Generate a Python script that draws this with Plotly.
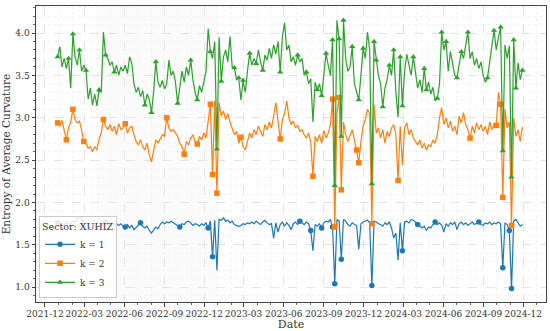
import pandas as pd
import plotly.graph_objects as go

# ---- data (~5-day sampling) ----
start_date = "2021-12-30"
series_names = ["k = 1", "k = 2", "k = 3"]
legend_title = "Sector: XUHIZ"

k1 = [1.76,1.72,1.75,1.73,1.77,1.74,1.76,1.78,1.77,1.80,
      1.83,1.82,1.74,1.70,1.66,1.72,1.70,1.73,1.69,1.72,
      1.74,1.73,1.77,1.75,1.74,1.76,1.74,1.75,1.73,1.75,
      1.72,1.71,1.74,1.70,1.73,1.68,1.71,1.74,1.76,1.72,
      1.70,1.72,1.67,1.64,1.68,1.71,1.69,1.74,1.77,1.75,
      1.77,1.76,1.78,1.76,1.75,1.73,1.71,1.75,1.74,1.77,
      1.78,1.76,1.73,1.75,1.74,1.72,1.75,1.73,1.76,1.70,
      1.78,1.36,1.79,1.20,1.80,1.79,1.82,1.78,1.79,1.76,
      1.78,1.74,1.73,1.72,1.73,1.75,1.74,1.76,1.75,1.77,
      1.75,1.78,1.76,1.74,1.77,1.79,1.76,1.74,1.75,1.58,
      1.76,1.65,1.74,1.77,1.72,1.76,1.73,1.68,1.75,1.77,
      1.74,1.78,1.76,1.74,1.77,1.75,1.67,1.43,1.74,1.72,
      1.75,1.70,1.76,1.78,1.77,1.80,1.71,1.04,1.80,1.78,
      1.33,1.80,1.78,1.74,1.72,1.76,1.74,1.73,1.45,1.75,
      1.77,1.78,1.79,1.76,1.02,1.78,1.77,1.75,1.74,1.72,
      1.76,1.74,1.77,1.70,1.58,1.64,1.32,1.76,1.43,1.77,
      1.78,1.76,1.80,1.79,1.77,1.74,1.72,1.70,1.72,1.67,
      1.71,1.70,1.74,1.77,1.74,1.76,1.73,1.65,1.75,1.72,
      1.76,1.74,1.77,1.68,1.75,1.77,1.74,1.76,1.73,1.75,
      1.77,1.74,1.76,1.77,1.74,1.73,1.76,1.75,1.77,1.74,
      1.76,1.75,1.77,1.75,1.23,1.76,1.74,1.67,0.985,1.78,
      1.80,1.76,1.72,1.74]

k2 = [2.94,2.90,2.97,2.86,2.74,2.88,2.95,3.10,2.98,2.94,
      2.96,2.85,2.72,2.70,2.64,2.66,2.60,2.66,2.62,2.75,
      2.82,2.98,2.90,2.86,2.92,2.84,2.90,2.80,2.93,2.86,
      2.88,2.93,2.82,2.88,2.90,2.80,2.72,2.68,2.74,2.66,
      2.62,2.70,2.56,2.48,2.62,2.74,2.70,2.76,2.80,2.78,
      3.00,2.88,2.84,2.86,2.82,2.78,2.70,2.66,2.57,2.72,
      2.68,2.76,2.80,2.72,2.69,2.78,2.74,2.82,2.76,2.95,
      3.16,2.33,3.20,2.11,3.18,3.02,3.08,2.98,3.05,2.95,
      2.88,2.80,2.84,2.70,2.77,2.66,2.62,2.74,2.82,2.76,
      2.86,2.80,2.90,2.84,2.78,2.92,2.86,2.95,2.88,3.02,
      3.18,2.96,2.75,2.98,3.05,3.20,3.00,2.92,2.96,2.88,
      2.91,2.84,2.86,2.80,2.76,2.82,2.72,2.31,2.78,2.72,
      2.80,2.70,2.85,2.76,2.82,2.92,3.22,1.71,3.05,3.24,
      2.15,2.95,2.80,2.72,2.78,2.86,2.74,2.62,2.47,2.72,
      2.90,2.98,3.10,3.05,1.75,3.16,2.82,2.88,2.76,2.86,
      2.70,2.84,2.78,2.88,2.92,2.80,2.26,2.90,2.44,2.88,
      2.94,2.80,2.86,2.76,2.72,2.68,2.74,2.64,2.70,2.62,
      2.68,2.66,2.74,2.70,2.80,3.00,3.12,2.92,3.00,2.88,
      2.96,2.84,2.90,2.80,3.02,2.94,3.06,2.92,2.86,2.76,
      2.90,2.82,2.94,2.86,2.92,2.84,2.90,2.80,2.95,2.86,
      2.92,2.91,3.30,3.16,2.06,3.10,2.88,2.95,1.73,3.00,
      2.78,2.86,2.72,2.89]

k3 = [3.72,3.84,3.60,3.70,3.58,3.70,3.35,3.99,3.72,3.62,
      3.80,3.55,3.62,3.56,3.22,3.35,3.15,3.28,3.14,3.33,
      3.30,4.01,3.74,3.70,3.62,3.66,3.54,3.62,3.50,3.60,
      3.55,3.62,3.52,3.72,3.64,3.40,3.30,3.36,3.25,3.32,
      3.15,3.28,3.22,3.06,3.30,3.66,3.42,3.36,3.44,3.34,
      3.40,3.68,3.50,3.55,3.42,3.17,3.36,3.55,3.42,3.60,
      3.50,3.68,3.45,3.30,3.21,3.38,3.30,3.42,3.55,4.05,
      3.78,3.70,3.90,2.63,3.95,3.43,3.72,3.80,3.66,3.96,
      3.60,3.59,3.45,3.47,3.21,3.44,3.30,3.55,3.76,3.62,
      3.70,3.64,3.80,3.66,3.56,3.74,3.68,3.82,3.70,3.86,
      3.75,3.90,3.54,3.95,4.12,3.80,3.86,3.66,3.72,3.62,
      3.74,3.66,3.70,3.50,3.54,3.40,3.46,2.95,3.42,3.33,
      3.40,3.26,3.55,3.76,3.62,3.50,3.92,2.20,4.15,3.93,
      2.78,4.15,3.70,3.55,3.60,3.84,3.40,3.30,3.21,3.50,
      3.82,3.70,4.01,3.80,2.22,3.90,3.68,3.50,3.40,3.13,
      3.35,3.45,3.62,3.50,3.80,3.30,3.01,3.72,3.14,3.55,
      3.75,3.60,3.50,3.72,3.50,3.35,3.45,3.30,3.58,3.33,
      3.42,3.28,3.36,3.20,3.23,3.40,4.01,3.80,3.90,3.55,
      3.78,3.62,3.50,3.47,3.65,3.78,3.70,3.85,4.01,3.70,
      3.78,3.62,3.70,3.58,3.66,3.50,3.42,3.47,3.70,3.85,
      4.03,3.80,3.95,4.07,2.61,3.86,3.70,3.85,2.30,3.92,
      3.35,3.65,3.45,3.56]

# indices of points that carry a marker
k1_marks = [0,22,31,38,56,69,71,111,116,121,126,127,130,144,158,165,173,193,204,207,208]
k2_marks = [0,4,7,12,21,31,50,58,64,70,71,73,84,102,117,126,127,129,130,137,138,144,156,189,201,203,204,208]
k3_marks = [0,5,7,10,13,19,22,26,40,43,45,55,61,64,70,73,75,81,83,85,88,91,94,102,110,114,119,121,123,
            126,127,129,130,131,135,138,140,144,145,146,149,152,154,157,158,163,168,169,174,176,178,183,
            185,188,197,200,203,204,208,209,210,213]

shade_start, shade_end = "2022-04-01", "2022-12-31"

dates = pd.date_range(start_date, periods=len(k1), freq="5D")

colors = ["#1f77b4", "#ff7f0e", "#2ca02c"]
symbols = ["circle", "square", "triangle-up"]

fig = go.Figure()
for name, vals, marks, col, sym in zip(series_names, [k1, k2, k3], [k1_marks, k2_marks, k3_marks], colors, symbols):
    fig.add_trace(go.Scatter(x=dates, y=vals, mode="lines", line=dict(color=col, width=1.2),
                             showlegend=False, legendgroup=name, hoverinfo="skip"))
    fig.add_trace(go.Scatter(x=[dates[i] for i in marks], y=[vals[i] for i in marks], mode="markers",
                             marker=dict(color=col, symbol=sym, size=5.5), showlegend=False, legendgroup=name))
    fig.add_trace(go.Scatter(x=[None], y=[None], mode="lines+markers", name=name, legendgroup=name,
                             line=dict(color=col, width=1.2), marker=dict(color=col, symbol=sym, size=5.5)))

fig.add_shape(type="rect", xref="x", yref="paper", x0=shade_start, x1=shade_end, y0=0, y1=1,
              fillcolor="rgba(0,0,0,0.014)", line=dict(width=0), layer="below")

axis_common = dict(showline=True, linecolor="#444", linewidth=1, mirror=True, ticks="outside",
                   ticklen=3.5, tickcolor="#444", showgrid=True, gridcolor="#e3e3e3", gridwidth=0.8,
                   griddash="dash", zeroline=False, tickfont=dict(size=9, color="#333"),
                   automargin=False)

fig.update_layout(
    width=550, height=331,
    margin=dict(l=36, r=4, t=6, b=29),
    paper_bgcolor="white", plot_bgcolor="white",
    font=dict(family="DejaVu Serif", size=9, color="#333"),
    xaxis=dict(type="date", range=["2021-11-10 12:00", "2025-01-22"], tick0="2021-12-01", dtick="M3",
               tickformat="%Y-%m", tickangle=0,
               minor=dict(dtick="M1", ticks="outside", ticklen=2, tickcolor="#666", showgrid=True,
                          gridcolor="#f3f3f3", griddash="dot"),
               title=dict(text="Date", font=dict(size=11, color="#333"), standoff=1),
               **axis_common),
    yaxis=dict(range=[0.826, 4.319], dtick=0.5, tickformat=".1f",
               minor=dict(dtick=0.1, ticks="outside", ticklen=2, tickcolor="#666", showgrid=True,
                          gridcolor="#f3f3f3", griddash="dot"),
               title=dict(text="Entropy of Average Curvature", font=dict(size=10.5, color="#333"), standoff=6),
               **axis_common),
    legend=dict(x=0.006, y=0.012, xanchor="left", yanchor="bottom", bgcolor="rgba(255,255,255,0.85)",
                bordercolor="#cccccc", borderwidth=1, font=dict(size=9, color="#333"),
                title=dict(text=legend_title, font=dict(size=9.5, color="#333")),
                tracegroupgap=0, itemwidth=30),
)

fig.write_html("out.html", config={"displayModeBar": False},
               post_script="document.body.style.margin='0';document.body.style.overflow='hidden';")
